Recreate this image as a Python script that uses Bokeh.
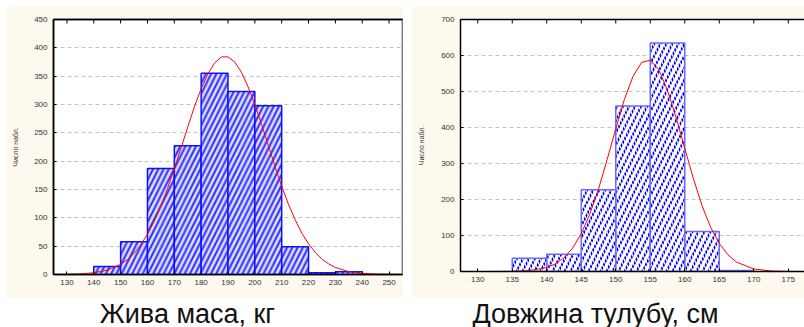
import math
from bokeh.plotting import figure
from bokeh.layouts import row, column
from bokeh.models import FixedTicker, LinearAxis, Spacer
from bokeh.core.properties import value
from bokeh.embed import file_html
from bokeh.resources import INLINE

# ---------------- data ----------------
mass_bin_left = [140, 150, 160, 170, 180, 190, 200, 210, 220, 230]
mass_bin_right = [150, 160, 170, 180, 190, 200, 210, 220, 230, 240]
mass_counts = [14, 58, 187, 227, 355, 323, 298, 49, 3, 5]
mass_curve_x = [125, 130, 135, 140, 145, 150, 152.5, 155, 157.5, 160, 162.5, 165, 167.5,
                170, 172.5, 175, 177.5, 180, 182.5, 185, 187.5, 190, 192.5, 195, 197.5,
                200, 202.5, 205, 207.5, 210, 212.5, 215, 217.5, 220, 222.5, 225, 227.5,
                230, 235, 240, 245, 250, 255]
mass_curve_y = [0.1, 0.3, 1.1, 3, 7.7, 18, 26, 37, 52.6, 71, 94, 121, 152,
                187, 223, 260, 296, 328, 354, 373, 384, 384, 375, 357, 331,
                300, 265, 228, 191, 156, 124, 97, 73, 54, 39, 27, 18.7,
                12.5, 5, 2, 0.7, 0.2, 0.05]
mass_xticks = [130, 140, 150, 160, 170, 180, 190, 200, 210, 220, 230, 240, 250]
mass_yticks = [0, 50, 100, 150, 200, 250, 300, 350, 400, 450]

len_bin_left = [135, 140, 145, 150, 155, 160, 165]
len_bin_right = [140, 145, 150, 155, 160, 165, 170]
len_counts = [37, 48, 227, 460, 635, 111, 3]
len_curve_x = [127.5, 130, 135, 137.5, 140, 141.25, 142.5, 143.75, 145, 146.25, 147.5,
               148.75, 150, 151.25, 152.5, 153.75, 155, 156.25, 157.5, 158.75, 160,
               161.25, 162.5, 163.75, 165, 166.25, 167.5, 170, 172.5, 175, 177.5]
len_curve_y = [0, 0, 0.45, 2.5, 11, 21, 38, 65, 105, 160, 229,
               311, 396, 478, 542, 581, 587, 560, 503, 427, 342,
               258, 183, 123, 78, 46.5, 26, 7, 1.5, 0.24, 0.03]
len_xticks = [130, 135, 140, 145, 150, 155, 160, 165, 170, 175]
len_yticks = [0, 100, 200, 300, 400, 500, 600, 700]

y_label = "Число набл."
titles = ["Жива маса, кг", "Довжина тулубу, см"]

CREAM = "#fdf9ee"
FONT = "Liberation Sans"


def style(p, xticks, yticks, label_standoff):
    p.xgrid.visible = False
    p.ygrid.grid_line_color = "#c4c4c4"
    p.ygrid.grid_line_dash = "4 3"
    p.ygrid.grid_line_width = 1
    p.ygrid.ticker = FixedTicker(ticks=yticks)
    for ax in (p.xaxis[0], p.yaxis[0]):
        ax.axis_line_color = "#000000"
        ax.axis_line_width = 1.5
        ax.major_tick_in = 3
        ax.major_tick_out = 0
        ax.minor_tick_line_color = None
        ax.major_tick_line_color = "#000000"
        ax.major_label_text_font = FONT
        ax.major_label_text_font_size = "8px"
        ax.major_label_text_color = "#333333"
        ax.major_label_standoff = 6
    p.xaxis[0].ticker = FixedTicker(ticks=xticks)
    p.xaxis[0].major_label_standoff = 5
    p.yaxis[0].ticker = FixedTicker(ticks=yticks)
    p.yaxis[0].axis_label = y_label
    p.yaxis[0].axis_label_text_font = FONT
    p.yaxis[0].axis_label_text_font_size = "7px"
    p.yaxis[0].axis_label_text_font_style = "normal"
    p.yaxis[0].axis_label_text_color = "#333333"
    p.yaxis[0].axis_label_standoff = label_standoff
    # top frame line (no labels) + inward tick marks along the top edge
    top = LinearAxis(ticker=FixedTicker(ticks=[]))
    top.axis_line_color = "#000000"
    top.axis_line_width = 1.5
    top.major_tick_line_color = None
    top.minor_tick_line_color = None
    p.add_layout(top, "above")
    p.scatter(x=xticks, y=[max(yticks)] * len(xticks), marker="dash", angle=math.pi / 2,
              size=8, line_color="#000000", line_width=1)


# ---------------- left chart ----------------
p1 = figure(frame_width=349, frame_height=255, x_range=(125, 255), y_range=(0, 450),
            min_border_left=48, min_border_right=1, min_border_top=11, min_border_bottom=26,
            output_backend="svg", toolbar_location=None,
            background_fill_color="white", border_fill_color=CREAM)
p1.outline_line_color = "#808080"
p1.outline_line_width = 2
style(p1, mass_xticks, mass_yticks, 12)
p1.quad(left=mass_bin_left, right=mass_bin_right, bottom=0, top=mass_counts,
        fill_color="#dcdcff", line_color="#1010ff", line_width=1.5,
        hatch_pattern="/", hatch_color="#3030ff", hatch_scale=10.5, hatch_weight=2)
p1.line(mass_curve_x, mass_curve_y, line_color="#ff0000", line_width=1)

# ---------------- right chart ----------------
p2 = figure(frame_width=344, frame_height=252, x_range=(127.5, 177.35), y_range=(0, 700),
            min_border_left=49, min_border_right=0, min_border_top=13, min_border_bottom=27,
            output_backend="svg", toolbar_location=None,
            background_fill_color="white", border_fill_color=CREAM)
p2.outline_line_color = None
style(p2, len_xticks, len_yticks, 13)
p2.quad(left=len_bin_left, right=len_bin_right, bottom=0, top=len_counts,
        fill_color="white", line_color=None,
        hatch_pattern="/", hatch_color="#0000ff", hatch_scale=12, hatch_weight=2.2)
p2.quad(left=len_bin_left, right=len_bin_right, bottom=0, top=len_counts,
        fill_alpha=0, line_color="#6a6aff", line_width=1.5,
        hatch_pattern="\\", hatch_color="white", hatch_scale=7, hatch_weight=1.2)
p2.line(len_curve_x, len_curve_y, line_color="#ff0000", line_width=1)

# ---------------- titles ----------------
p3 = figure(width=804, height=29, x_range=(0, 804), y_range=(0, 29),
            min_border=0, output_backend="svg", toolbar_location=None,
            x_axis_location=None, y_axis_location=None,
            background_fill_color="white", border_fill_color="white")
p3.outline_line_color = None
p3.grid.visible = False
p3.text(x=[187, 595], y=[14, 14], text=titles, text_font=value(FONT),
        text_font_size="27px", text_align="center", text_baseline="alphabetic",
        text_color="#111111")

layout = column(Spacer(width=804, height=6),
                row(Spacer(width=5, height=292), p1, Spacer(width=8, height=292), p2),
                p3)
open("out.html", "w").write(file_html(layout, INLINE))
